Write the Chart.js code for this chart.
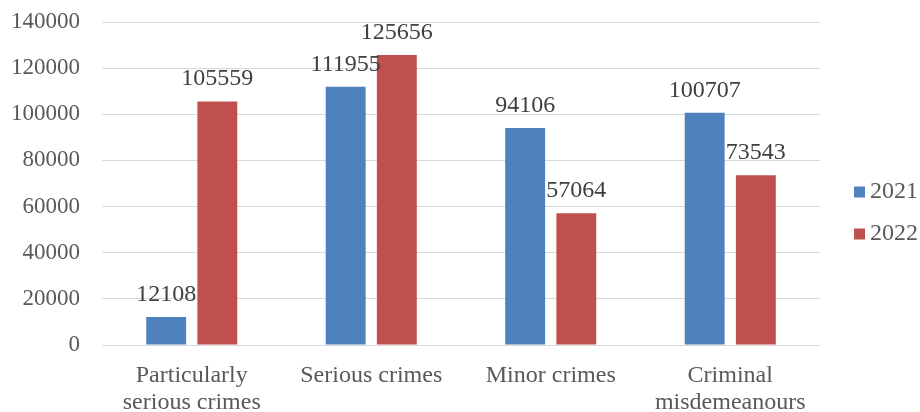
<!DOCTYPE html>
<html>
<head>
<meta charset="utf-8">
<script src="https://cdn.jsdelivr.net/npm/chart.js@4/dist/chart.umd.min.js"></script>
<style>
  body { margin: 0; background: #fff; }
  #wrap { width: 920px; height: 412px; }
</style>
</head>
<body>
<div id="wrap"><canvas id="myChart" width="920" height="412"></canvas></div>
<script>
const categories = [
  ["Particularly", "serious crimes"],
  "Serious crimes",
  "Minor crimes",
  ["Criminal", "misdemeanours"],
];
const values2021 = [12108, 111955, 94106, 100707];
const values2022 = [105559, 125656, 57064, 73543];

const FONT = "Liberation Serif";

// draws the number above each bar
const barLabels = {
  id: "barLabels",
  afterDatasetsDraw(chart) {
    const c = chart.ctx;
    c.save();
    c.font = "24px \"Liberation Serif\"";
    c.fillStyle = "#404040";
    c.textAlign = "center";
    c.textBaseline = "alphabetic";
    chart.data.datasets.forEach((ds, i) => {
      chart.getDatasetMeta(i).data.forEach((bar, j) => {
        c.fillText(String(ds.data[j]), bar.x, bar.y - 16);
      });
    });
    c.restore();
  },
};

// nudge the legend box to where it sits in the original
const legendSpot = {
  id: "legendSpot",
  afterLayout(chart) {
    const l = chart.legend;
    l.left = 836;
    l.right = 918;
    l.width = 82;
    l.top -= 4;
    l.bottom -= 4;
  },
};

const ctx = document.getElementById("myChart").getContext("2d");
const myChart = new Chart(ctx, {
  type: "bar",
  data: {
    labels: categories,
    datasets: [
      {
        label: "2021",
        data: values2021,
        backgroundColor: "#4F81BD",
        barPercentage: 0.78,
        categoryPercentage: 0.57,
      },
      {
        label: "2022",
        data: values2022,
        backgroundColor: "#C0504D",
        barPercentage: 0.78,
        categoryPercentage: 0.57,
      },
    ],
  },
  options: {
    responsive: false,
    animation: false,
    layout: { padding: { top: 22, right: 1, left: 0, bottom: 0 } },
    plugins: {
      legend: {
        position: "right",
        labels: {
          font: { family: FONT, size: 24 },
          color: "#595959",
          boxWidth: 11,
          boxHeight: 11,
          padding: 18,
          textAlign: "right",
        },
      },
      tooltip: { enabled: false },
    },
    scales: {
      x: {
        grid: { display: false },
        border: { display: false },
        afterFit: (scale) => { scale.height = 67; },
        ticks: {
          font: { family: FONT, size: 24, lineHeight: 1.1 },
          color: "#595959",
          maxRotation: 0,
          padding: 10,
        },
      },
      y: {
        min: 0,
        max: 140000,
        afterFit: (scale) => {
          scale.width = 102;
          scale.paddingTop = 0;
          scale.paddingBottom = 0;
        },
        ticks: {
          stepSize: 20000,
          font: { family: FONT, size: 23 },
          color: "#595959",
          padding: 22,
          callback: (v) => String(v),
        },
        grid: { color: "#d9d9d9", lineWidth: 1, drawTicks: false },
        border: { display: false },
      },
    },
  },
  plugins: [barLabels, legendSpot],
});
</script>
</body>
</html>
